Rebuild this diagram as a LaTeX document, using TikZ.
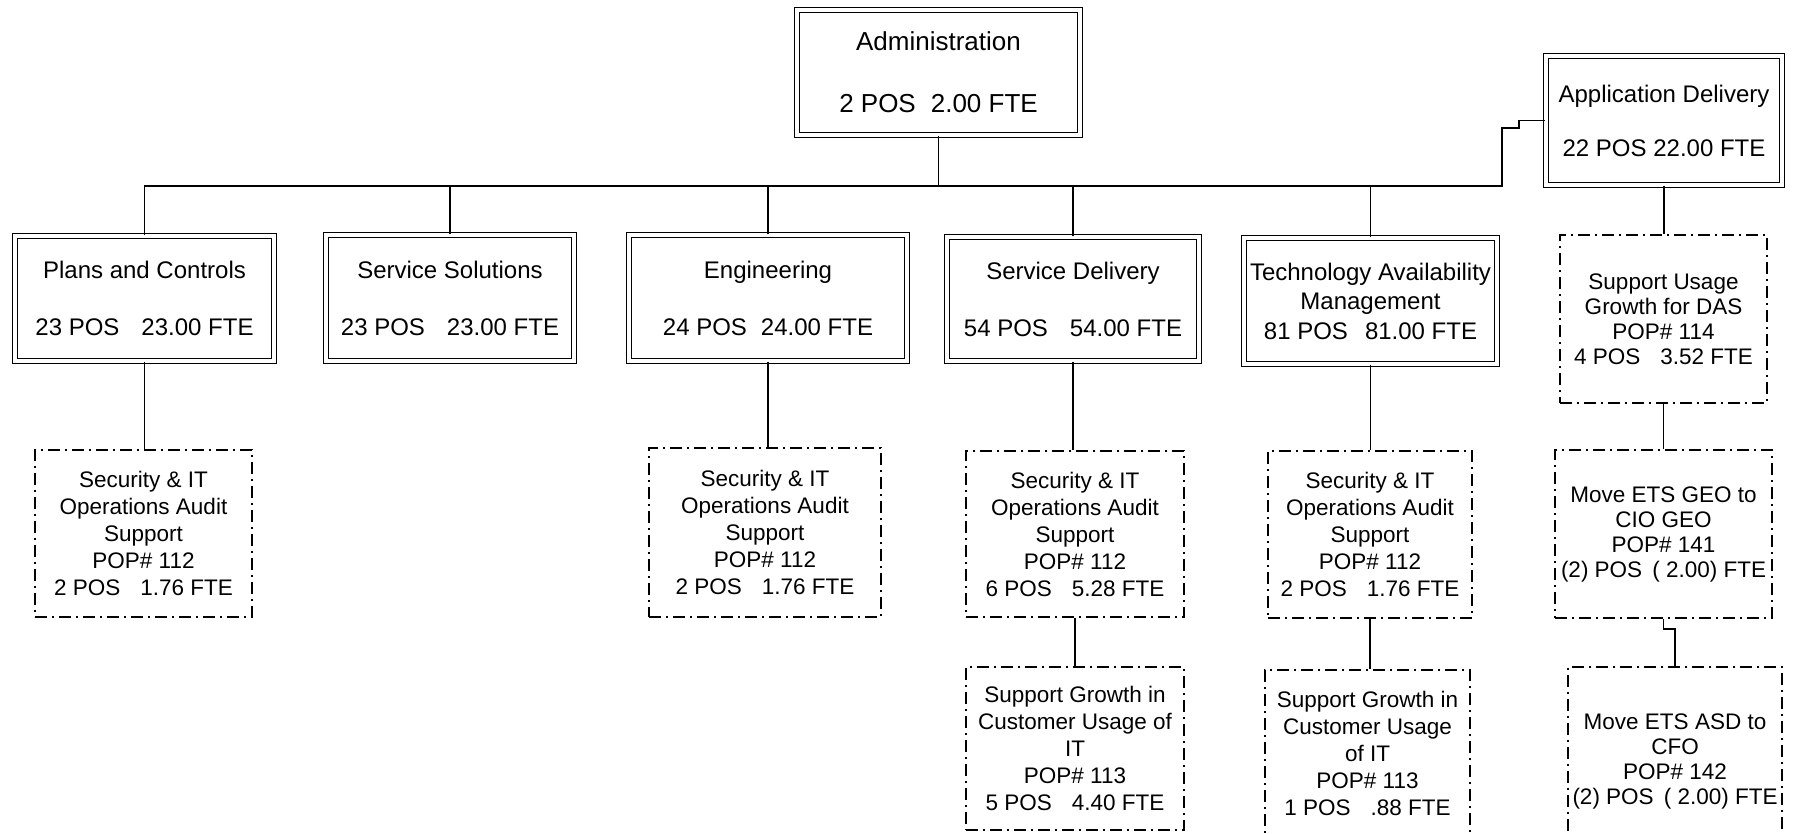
\documentclass[tikz,border=0pt]{standalone}
\usepackage{fontspec}
\setmainfont{Liberation Sans}
\begin{document}
\begin{tikzpicture}[x=1pt,y=-1pt,
  unit/.style={draw, double, line width=1.4pt, double distance=3.2pt, inner sep=0pt,
    align=center, font=\fontsize{24}{29}\selectfont},
  popbox/.style={draw, line width=1.5pt, dash pattern=on 12pt off 5pt on 2pt off 5pt,
    inner sep=0pt, align=center, font=\fontsize{22.5}{27}\selectfont},
  popfour/.style={popbox, font=\fontsize{22.5}{25}\selectfont},
  conn/.style={line width=1.8pt}]
\useasboundingbox (0,0) rectangle (1801,833);
\fill[white] (0,0) rectangle (1801,833);
\clip (0,0) rectangle (1801,833);

% top level
\node[unit, minimum width=283pt, minimum height=125pt, font=\fontsize{26}{31}\selectfont]
  (admin) at (938.5,72.5) {Administration\\[31pt]2 POS\hspace{15pt}2.00 FTE};
\node[unit, minimum width=236pt, minimum height=129pt]
  (app) at (1664,120.5) {Application Delivery\\[25pt]22 POS 22.00 FTE};

% divisions
\node[unit, minimum width=259pt, minimum height=125pt]
  (plans) at (144.5,298.5) {Plans and Controls\\[28pt]23 POS\hspace{22pt}23.00 FTE};
\node[unit, minimum width=248pt, minimum height=126pt]
  (servsol) at (450,298) {Service Solutions\\[28pt]23 POS\hspace{22pt}23.00 FTE};
\node[unit, minimum width=278pt, minimum height=126pt]
  (eng) at (768,298) {Engineering\\[28pt]24 POS\hspace{14pt}24.00 FTE};
\node[unit, minimum width=252pt, minimum height=124pt]
  (servdel) at (1073,299) {Service Delivery\\[28pt]54 POS\hspace{22pt}54.00 FTE};
\node[unit, minimum width=253pt, minimum height=126pt, font=\fontsize{24}{29.5}\selectfont]
  (tam) at (1370.5,301) {Technology Availability\\Management\\81 POS\hspace{17pt}81.00 FTE};

% proposals
\node[popbox, minimum width=217pt, minimum height=167pt] (pcA) at (143.5,533.5)
  {Security \& IT\\Operations Audit\\Support\\POP\# 112\\2 POS\hspace{20pt}1.76 FTE};
\node[popbox, minimum width=232pt, minimum height=169pt] (engA) at (765,532.5)
  {Security \& IT\\Operations Audit\\Support\\POP\# 112\\2 POS\hspace{20pt}1.76 FTE};
\node[popbox, minimum width=218pt, minimum height=166pt] (sdA) at (1075,534)
  {Security \& IT\\Operations Audit\\Support\\POP\# 112\\6 POS\hspace{20pt}5.28 FTE};
\node[popbox, minimum width=204pt, minimum height=167pt] (tamA) at (1370,534.5)
  {Security \& IT\\Operations Audit\\Support\\POP\# 112\\2 POS\hspace{20pt}1.76 FTE};
\node[popbox, minimum width=218pt, minimum height=163pt] (sdB) at (1075,748.5)
  {Support Growth in\\Customer Usage of\\IT\\POP\# 113\\5 POS\hspace{20pt}4.40 FTE};
\node[popbox, minimum width=205pt, minimum height=166pt] (tamB) at (1367.5,753)
  {Support Growth in\\Customer Usage\\of IT\\POP\# 113\\1 POS\hspace{20pt}.88 FTE};
\node[popfour, minimum width=207pt, minimum height=168pt] (das) at (1663.5,319)
  {Support Usage\\Growth for DAS\\POP\# 114\\4 POS\hspace{20pt}3.52 FTE};
\node[popfour, minimum width=217pt, minimum height=168pt] (geo) at (1663.5,534)
  {Move ETS GEO to\\CIO GEO\\POP\# 141\\(2) POS\hspace{10pt}( 2.00) FTE};
\node[popfour, minimum width=214pt, minimum height=188pt] (asd) at (1675,761)
  {Move ETS ASD to\\CFO\\POP\# 142\\(2) POS\hspace{10pt}( 2.00) FTE};

% reporting lines
\coordinate (bus) at (0,186);
\coordinate (jogA) at (1502,128);
\coordinate (jogB) at (1519,120.5);
\draw[conn] (plans.north) -- (plans.north |- bus) -- (jogA |- bus) -- (jogA) -| (jogB) -- (app.west);
\foreach \n in {admin.south, servsol.north, eng.north, servdel.north, tam.north}
  \draw[conn] (\n) -- (\n |- bus);
\draw[conn] (plans.south) -- (plans.south |- pcA.north);
\draw[conn] (eng.south) -- (eng.south |- engA.north);
\draw[conn] (servdel.south) -- (servdel.south |- sdA.north);
\draw[conn] (sdA.south) -- (sdA.south |- sdB.north);
\draw[conn] (tam.south) -- (tam.south |- tamA.north);
\draw[conn] (tamA.south) -- (tamA.south |- tamB.north);
\draw[conn] (app.south) -- (app.south |- das.north);
\draw[conn] (das.south) -- (das.south |- geo.north);
\draw[conn] (geo.south) -- ++(0,10) -| (asd.north);
\end{tikzpicture}
\end{document}
